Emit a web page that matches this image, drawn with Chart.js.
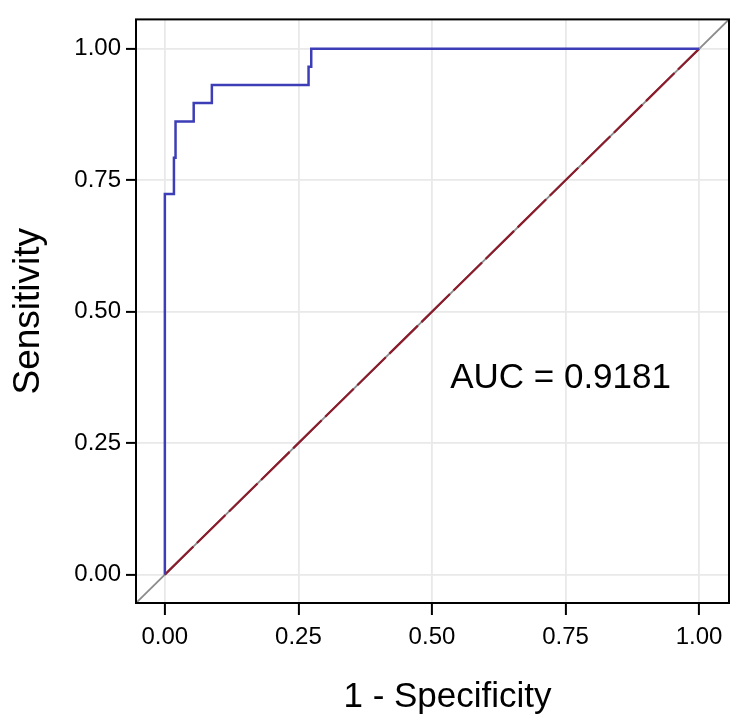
<!DOCTYPE html>
<html>
<head>
<meta charset="utf-8">
<title>ROC curve</title>
<script src="https://cdn.jsdelivr.net/npm/chart.js@4.4.0/dist/chart.umd.min.js"></script>
<style>
  html, body { margin: 0; padding: 0; background: #fff; }
  #wrap { width: 750px; height: 724px; }
</style>
</head>
<body>
<div id="wrap"><canvas id="rocChart" width="750" height="724"></canvas></div>
<script>
// ROC points (1 - specificity, sensitivity)
const fpr = [0, 0, 0.017, 0.020, 0.054, 0.088, 0.269, 0.274, 1];
const tpr = [0, 0.724, 0.793, 0.862, 0.897, 0.931, 0.966, 1, 1];

// chance line from (0,0) to (1,1)
const refX = [0, 1];
const refY = [0, 1];

const tickValues = [0, 0.25, 0.5, 0.75, 1];
const aucLabel = "AUC = 0.9181";
const xTitle = "1 - Specificity";
const yTitle = "Sensitivity";

// axis limits (ggplot-like expansion around 0..1)
const axisMin = -0.054;
const axisMax = 1.056;
const aucPos = [0.534, 0.355];

const fontFamily = '"Liberation Sans", Arial, Helvetica, sans-serif';
Chart.defaults.font.family = fontFamily;

function toPoints(xs, ys) {
    return xs.map((x, i) => ({ x: x, y: ys[i] }));
}

// frame around the panel + text annotations
const frameAndLabels = {
    id: 'frameAndLabels',
    afterDatasetsDraw(chart) {
        const { ctx, chartArea: a, scales } = chart;
        ctx.save();
        ctx.strokeStyle = '#000';
        ctx.lineWidth = 2;
        ctx.strokeRect(a.left, a.top, a.right - a.left, a.bottom - a.top);

        ctx.fillStyle = '#000';
        ctx.font = '35px ' + fontFamily;
        ctx.textAlign = 'left';
        ctx.textBaseline = 'alphabetic';
        ctx.fillText(aucLabel, scales.x.getPixelForValue(aucPos[0]), scales.y.getPixelForValue(aucPos[1]));

        ctx.font = '35px ' + fontFamily;
        ctx.textAlign = 'center';
        ctx.fillText(xTitle, (a.left + a.right) / 2 + 15, chart.height - 17);
        ctx.restore();
    }
};

function setTicks(scale) {
    scale.ticks = tickValues.map(v => ({ value: v }));
}

const ctx = document.getElementById('rocChart');
const rocChart = new Chart(ctx, {
    type: 'scatter',
    data: {
        datasets: [
            {
                label: 'ROC',
                data: toPoints(fpr, tpr),
                showLine: true,
                stepped: true,
                borderColor: '#3d3db8',
                borderWidth: 2.5,
                pointRadius: 0,
                fill: false
            },
            {
                label: 'chance',
                data: toPoints(refX, refY),
                showLine: true,
                borderColor: '#8b1c2c',
                borderWidth: 2.2,
                borderDash: [40, 5],
                pointRadius: 0
            },
            {
                label: 'reference',
                data: toPoints([axisMin, axisMax], [axisMin, axisMax]),
                showLine: true,
                borderColor: '#8c8c8c',
                borderWidth: 1.8,
                pointRadius: 0
            }
        ]
    },
    options: {
        responsive: false,
        animation: false,
        devicePixelRatio: 1,
        layout: {
            padding: { top: 12, right: 21, left: 0, bottom: 0 }
        },
        plugins: {
            legend: { display: false },
            tooltip: { enabled: false }
        },
        scales: {
            x: {
                type: 'linear',
                min: axisMin,
                max: axisMax,
                afterBuildTicks: setTicks,
                afterFit: (scale) => { scale.height = 121; },
                border: { display: false },
                grid: {
                    color: '#e9e9e9',
                    lineWidth: 1.8,
                    tickColor: '#000',
                    tickWidth: 2,
                    tickLength: 12
                },
                ticks: {
                    color: '#000',
                    font: { size: 24 },
                    padding: 8,
                    maxRotation: 0,
                    callback: (v) => Number(v).toFixed(2)
                },
                title: { display: false }
            },
            y: {
                type: 'linear',
                min: axisMin,
                max: axisMax,
                afterBuildTicks: setTicks,
                afterFit: (scale) => { scale.width = 136; },
                border: { display: false },
                grid: {
                    color: '#e9e9e9',
                    lineWidth: 1.8,
                    tickColor: '#000',
                    tickWidth: 2,
                    tickLength: 10
                },
                ticks: {
                    color: '#000',
                    font: { size: 24 },
                    padding: 5,
                    callback: (v) => Number(v).toFixed(2)
                },
                title: {
                    display: true,
                    text: yTitle,
                    color: '#000',
                    font: { size: 37 },
                    padding: { top: 7, bottom: 0 }
                }
            }
        }
    },
    plugins: [frameAndLabels]
});
</script>
</body>
</html>
